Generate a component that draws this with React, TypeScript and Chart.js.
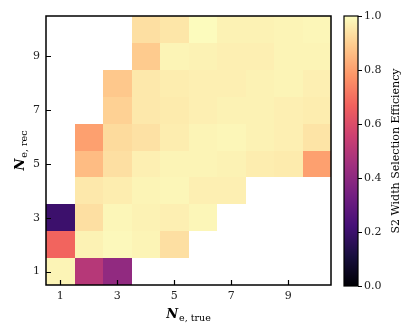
import React, { useEffect, useRef } from "react";
import { Chart, registerables } from "chart.js";

Chart.register(...registerables);

// N_e,true categories (x) and N_e,rec categories (y)
const nTrue = [1, 2, 3, 4, 5, 6, 7, 8, 9, 10];
const nRec = [1, 2, 3, 4, 5, 6, 7, 8, 9, 10];
const xTickValues = [1, 3, 5, 7, 9];
const yTickValues = [1, 3, 5, 7, 9];
const cbTickValues = [0, 0.2, 0.4, 0.6, 0.8, 1.0];

// efficiency per N_e,rec row, indexed by N_e,true (null = no data)
const effRec1 = [0.98, 0.5, 0.41, null, null, null, null, null, null, null];
const effRec2 = [0.675, 0.975, 0.99, 0.98, 0.935, null, null, null, null, null];
const effRec3 = [0.2, 0.935, 0.985, 0.975, 0.97, 0.985, null, null, null, null];
const effRec4 = [null, 0.955, 0.965, 0.98, 0.985, 0.97, 0.97, null, null, null];
const effRec5 = [null, 0.86, 0.935, 0.97, 0.98, 0.98, 0.975, 0.965, 0.96, 0.8];
const effRec6 = [null, 0.8, 0.925, 0.94, 0.965, 0.98, 0.985, 0.975, 0.97, 0.945];
const effRec7 = [null, null, 0.905, 0.955, 0.96, 0.97, 0.975, 0.975, 0.97, 0.965];
const effRec8 = [null, null, 0.885, 0.955, 0.965, 0.97, 0.97, 0.975, 0.98, 0.97];
const effRec9 = [null, null, null, 0.89, 0.98, 0.975, 0.97, 0.97, 0.98, 0.98];
const effRec10 = [null, null, null, 0.935, 0.95, 0.995, 0.975, 0.975, 0.98, 0.985];
const effRows = [effRec1, effRec2, effRec3, effRec4, effRec5, effRec6, effRec7, effRec8, effRec9, effRec10];

const xLabelMain = "N";
const xLabelSub = "e, true";
const yLabelMain = "N";
const yLabelSub = "e, rec";
const cbLabel = "S2 Width Selection Efficiency";

const FONT = "'DejaVu Serif', serif";

// magma colormap stops
const magmaStops = ["#000004", "#180f3e", "#451077", "#721f81", "#9f2f7f", "#cd4071", "#f1605d", "#fd9567", "#feca8d", "#fcfdbf"];

function hexToRgb(h: string) {
  return [parseInt(h.slice(1, 3), 16), parseInt(h.slice(3, 5), 16), parseInt(h.slice(5, 7), 16)];
}
function magma(t: number) {
  const v = Math.max(0, Math.min(1, t)) * (magmaStops.length - 1);
  const i = Math.min(Math.floor(v), magmaStops.length - 2);
  const f = v - i;
  const a = hexToRgb(magmaStops[i]);
  const b = hexToRgb(magmaStops[i + 1]);
  const c = a.map((av, k) => Math.round(av + (b[k] - av) * f));
  return `rgb(${c[0]},${c[1]},${c[2]})`;
}

const cells: { x: number; y: number; v: number }[] = [];
effRows.forEach((row, yi) => {
  row.forEach((v, xi) => {
    if (v !== null) cells.push({ x: nTrue[xi], y: nRec[yi], v: v as number });
  });
});

const heatmapPlugin = {
  id: "heatmap",
  beforeDatasetsDraw(chart: any) {
    const { ctx, scales } = chart;
    const xs = scales.x;
    const ys = scales.y;
    ctx.save();
    cells.forEach((c) => {
      const x0 = Math.round(xs.getPixelForValue(c.x - 0.5));
      const x1 = Math.round(xs.getPixelForValue(c.x + 0.5));
      const y0 = Math.round(ys.getPixelForValue(c.y + 0.5));
      const y1 = Math.round(ys.getPixelForValue(c.y - 0.5));
      ctx.fillStyle = magma(c.v);
      ctx.fillRect(x0, y0, x1 - x0, y1 - y0);
    });
    ctx.restore();
  },
  afterDraw(chart: any) {
    const { ctx, chartArea, scales } = chart;
    const { left, right, top, bottom } = chartArea;
    ctx.save();
    ctx.strokeStyle = "#000";
    ctx.lineWidth = 1.5;
    ctx.strokeRect(left, top, right - left, bottom - top);
    ctx.lineWidth = 1.2;
    ctx.beginPath();
    xTickValues.forEach((v) => {
      const px = Math.round(scales.x.getPixelForValue(v)) + 0.5;
      ctx.moveTo(px, bottom);
      ctx.lineTo(px, bottom - 5);
    });
    yTickValues.forEach((v) => {
      const py = Math.round(scales.y.getPixelForValue(v)) + 0.5;
      ctx.moveTo(left, py);
      ctx.lineTo(left + 5, py);
    });
    ctx.stroke();

    // x axis label
    ctx.fillStyle = "#000";
    ctx.textBaseline = "alphabetic";
    const mainFont = `italic bold 13px ${FONT}`;
    const subFont = `9.5px ${FONT}`;
    ctx.font = mainFont;
    const wN = ctx.measureText(xLabelMain).width;
    ctx.font = subFont;
    const wSub = ctx.measureText(xLabelSub).width;
    const cx = (left + right) / 2;
    const startX = cx - (wN + wSub + 1) / 2;
    ctx.font = mainFont;
    ctx.textAlign = "left";
    ctx.fillText(xLabelMain, startX, 318);
    ctx.font = subFont;
    ctx.fillText(xLabelSub, startX + wN + 1, 321);

    // y axis label
    ctx.save();
    const cy = (top + bottom) / 2;
    ctx.translate(24, cy);
    ctx.rotate(-Math.PI / 2);
    ctx.font = mainFont;
    const wN2 = ctx.measureText(yLabelMain).width;
    ctx.font = subFont;
    const wSub2 = ctx.measureText(yLabelSub).width;
    const sx = -(wN2 + wSub2 + 1) / 2;
    ctx.font = mainFont;
    ctx.fillText(yLabelMain, sx, 0);
    ctx.font = subFont;
    ctx.fillText(yLabelSub, sx + wN2 + 1, 3);
    ctx.restore();
    ctx.restore();
  },
};

const colorbarPlugin = {
  id: "colorbar",
  beforeDatasetsDraw(chart: any) {
    const { ctx, chartArea, scales } = chart;
    const { left, right } = chartArea;
    const ys = scales.y;
    const yTop = ys.getPixelForValue(1);
    const yBot = ys.getPixelForValue(0);
    ctx.save();
    const g = ctx.createLinearGradient(0, yBot, 0, yTop);
    magmaStops.forEach((c, i) => g.addColorStop(i / (magmaStops.length - 1), c));
    ctx.fillStyle = g;
    ctx.fillRect(left, yTop, right - left, yBot - yTop);
    ctx.restore();
  },
  afterDraw(chart: any) {
    const { ctx, chartArea, scales } = chart;
    const { left, right, top, bottom } = chartArea;
    ctx.save();
    ctx.strokeStyle = "#000";
    ctx.lineWidth = 1.2;
    ctx.strokeRect(left, top, right - left, bottom - top);
    ctx.beginPath();
    cbTickValues.forEach((v) => {
      const py = Math.round(scales.y.getPixelForValue(v)) + 0.5;
      ctx.moveTo(right, py);
      ctx.lineTo(right + 4, py);
    });
    ctx.stroke();
    ctx.fillStyle = "#000";
    ctx.font = `11px ${FONT}`;
    ctx.textAlign = "center";
    ctx.textBaseline = "middle";
    ctx.translate(65, (top + bottom) / 2);
    ctx.rotate(-Math.PI / 2);
    ctx.fillText(cbLabel, 0, 0);
    ctx.restore();
  },
};

export default function App() {
  const mainRef = useRef<HTMLCanvasElement>(null);
  const cbRef = useRef<HTMLCanvasElement>(null);

  useEffect(() => {
    const tickFont = { family: FONT, size: 11 };
    const main = new Chart(mainRef.current as HTMLCanvasElement, {
      type: "scatter",
      data: {
        datasets: [
          {
            data: cells.map((c) => ({ x: c.x, y: c.y })),
            pointRadius: 0,
            pointHoverRadius: 0,
          },
        ],
      },
      options: {
        responsive: false,
        animation: false,
        events: [],
        layout: { padding: { top: 16, right: 9, left: 0, bottom: 0 } },
        plugins: { legend: { display: false }, tooltip: { enabled: false } },
        scales: {
          x: {
            type: "linear",
            min: 0.5,
            max: 10.5,
            grid: { display: false, drawTicks: false },
            border: { display: false },
            ticks: { font: tickFont, color: "#222", padding: 5, maxRotation: 0, callback: (v: any) => String(v) },
            afterBuildTicks: (s: any) => {
              s.ticks = xTickValues.map((v) => ({ value: v }));
            },
            afterFit: (s: any) => {
              s.height = 51;
            },
          },
          y: {
            type: "linear",
            min: 0.5,
            max: 10.5,
            grid: { display: false, drawTicks: false },
            border: { display: false },
            ticks: { font: tickFont, color: "#222", padding: 6, callback: (v: any) => String(v) },
            afterBuildTicks: (s: any) => {
              s.ticks = yTickValues.map((v) => ({ value: v }));
            },
            afterFit: (s: any) => {
              s.width = 46;
            },
          },
        },
      } as any,
      plugins: [heatmapPlugin],
    });

    const cb = new Chart(cbRef.current as HTMLCanvasElement, {
      type: "scatter",
      data: { datasets: [{ data: [], pointRadius: 0 }] },
      options: {
        responsive: false,
        animation: false,
        events: [],
        layout: { padding: { top: 16, left: 13, right: 0, bottom: 50 } },
        plugins: { legend: { display: false }, tooltip: { enabled: false } },
        scales: {
          x: { display: false, min: 0, max: 1 },
          y: {
            type: "linear",
            position: "right",
            min: 0,
            max: 1,
            grid: { display: false, drawTicks: false },
            border: { display: false },
            ticks: { font: tickFont, color: "#222", padding: 6, callback: (v: any) => Number(v).toFixed(1) },
            afterBuildTicks: (s: any) => {
              s.ticks = cbTickValues.map((v) => ({ value: v }));
            },
            afterFit: (s: any) => {
              s.width = 57;
            },
          },
        },
      } as any,
      plugins: [colorbarPlugin],
    });
    return () => {
      main.destroy();
      cb.destroy();
    };
  }, []);

  return (
    <div style={{ position: "fixed", left: 0, top: 0, width: 415, height: 336, background: "#fff" }}>
      <canvas ref={mainRef} width={340} height={336} style={{ position: "absolute", left: 0, top: 0 }} />
      <canvas ref={cbRef} width={84} height={336} style={{ position: "absolute", left: 331, top: 0 }} />
    </div>
  );
}
